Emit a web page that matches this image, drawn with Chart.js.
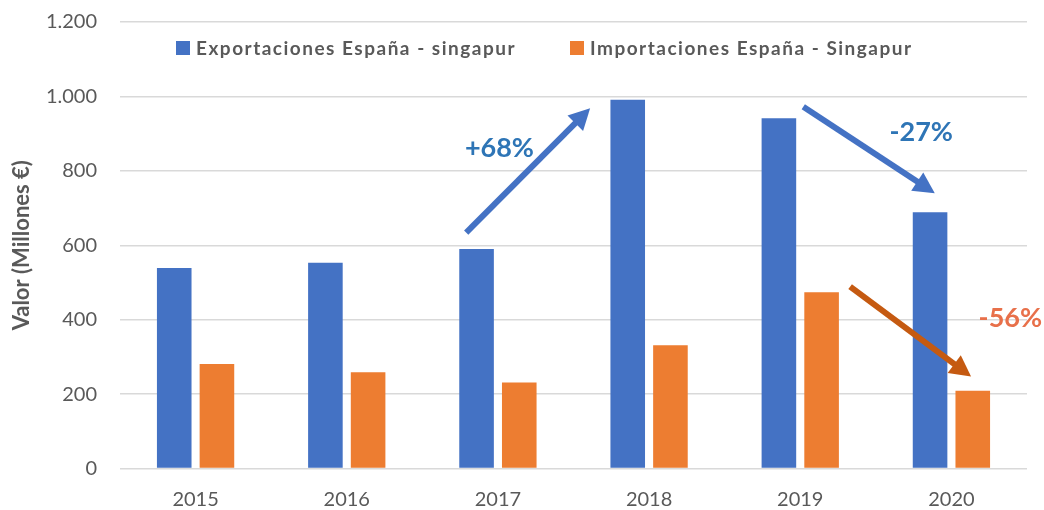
<!DOCTYPE html>
<html>
<head>
<meta charset="utf-8">
<script src="https://cdn.jsdelivr.net/npm/chart.js@4"></script>
<style>
  html, body { margin: 0; padding: 0; background: #fff; }
  #wrap { width: 1044px; height: 510px; position: relative; }
</style>
</head>
<body>
<div id="wrap"><canvas id="chart"></canvas></div>
<script>
// ---- data ----
const years = ['2015', '2016', '2017', '2018', '2019', '2020'];
const exportaciones = [539, 553, 590, 991, 941, 689];
const importaciones = [281, 259, 231, 331, 474, 209];
const yTicks = [0, 200, 400, 600, 800, 1000, 1200];

// annotations in data coordinates (category index, value)
const arrows = [
  { from: [1.79, 634], to: [2.61, 968], color: '#4472C4' },
  { from: [4.02, 972], to: [4.89, 740], color: '#4472C4' },
  { from: [4.33, 489], to: [5.13, 247], color: '#C55A11' },
];
const notes = [
  { text: '+68%', at: [2.01, 861], color: '#2E75B6' },
  { text: '-27%', at: [4.80, 903], color: '#2E75B6' },
  { text: '-56%', at: [5.39, 404], color: '#E8704A' },
];

const FONT = 'Lato, "Open Sans", sans-serif';
const GREY = '#595959';

function fmtMiles(v) {
  return String(v).replace(/\B(?=(\d{3})+(?!\d))/g, '.');
}

function drawArrow(ctx, x1, y1, x2, y2, color) {
  const ang = Math.atan2(y2 - y1, x2 - x1);
  const headLen = 21, headW = 11;
  const bx = x2 - headLen * Math.cos(ang);
  const by = y2 - headLen * Math.sin(ang);
  ctx.save();
  ctx.strokeStyle = color;
  ctx.fillStyle = color;
  ctx.lineWidth = 6;
  ctx.beginPath();
  ctx.moveTo(x1, y1);
  ctx.lineTo(bx + 4 * Math.cos(ang), by + 4 * Math.sin(ang));
  ctx.stroke();
  ctx.beginPath();
  ctx.moveTo(x2, y2);
  ctx.lineTo(bx + headW * Math.sin(ang), by - headW * Math.cos(ang));
  ctx.lineTo(bx - headW * Math.sin(ang), by + headW * Math.cos(ang));
  ctx.closePath();
  ctx.fill();
  ctx.restore();
}

const overlay = {
  id: 'overlay',
  afterDatasetsDraw(chart) {
    const { ctx, scales: { x, y } } = chart;
    arrows.forEach((a) => {
      drawArrow(ctx,
        x.getPixelForValue(a.from[0]), y.getPixelForValue(a.from[1]),
        x.getPixelForValue(a.to[0]), y.getPixelForValue(a.to[1]), a.color);
    });
    ctx.save();
    ctx.font = 'bold 27px ' + FONT;
    ctx.textAlign = 'center';
    ctx.textBaseline = 'middle';
    notes.forEach((n) => {
      ctx.fillStyle = n.color;
      ctx.fillText(n.text, x.getPixelForValue(n.at[0]), y.getPixelForValue(n.at[1]));
    });
    ctx.restore();

    // legend inside plot area
    ctx.save();
    ctx.font = 'bold 19px ' + FONT;
    ctx.letterSpacing = '1.5px';
    ctx.textBaseline = 'middle';
    const legendX = [176, 570];
    chart.data.datasets.forEach((ds, i) => {
      const lx = legendX[i], ly = 48;
      ctx.fillStyle = ds.backgroundColor;
      ctx.fillRect(lx, ly - 7, 14, 14);
      ctx.fillStyle = GREY;
      ctx.fillText(ds.label, lx + 20, ly + 1);
    });
    ctx.restore();
  },
};

new Chart(document.getElementById('chart'), {
  type: 'bar',
  data: {
    labels: years,
    datasets: [
      { label: 'Exportaciones España - singapur', data: exportaciones, backgroundColor: '#4472C4',
        categoryPercentage: 0.565, barPercentage: 0.81 },
      { label: 'Importaciones España - Singapur', data: importaciones, backgroundColor: '#ED7D31',
        categoryPercentage: 0.565, barPercentage: 0.81 },
    ],
  },
  options: {
    responsive: true,
    maintainAspectRatio: false,
    animation: false,
    layout: { padding: { top: 0, right: 17, bottom: 0, left: 0 } },
    plugins: { legend: { display: false }, tooltip: { enabled: false } },
    scales: {
      x: {
        grid: { display: false },
        border: { display: false },
        afterFit: (axis) => { axis.height = 41.5; },
        ticks: { color: GREY, font: { family: FONT, size: 20 }, padding: 11 },
      },
      y: {
        min: 0,
        max: 1200,
        afterBuildTicks: (axis) => { axis.ticks = yTicks.map((v) => ({ value: v })); },
        afterFit: (axis) => { axis.width = 120; axis.paddingTop = 22; axis.paddingBottom = 12; },
        grid: { color: '#D9D9D9', lineWidth: 1.5, drawTicks: false },
        border: { display: false },
        ticks: { color: GREY, font: { family: FONT, size: 20 }, padding: 23, callback: (v) => fmtMiles(v) },
        title: { display: true, text: 'Valor (Millones €)', color: GREY,
                 font: { family: FONT, size: 22, weight: 'bold' }, padding: { top: 9, bottom: 0 } },
      },
    },
  },
  plugins: [overlay],
});
</script>
</body>
</html>
